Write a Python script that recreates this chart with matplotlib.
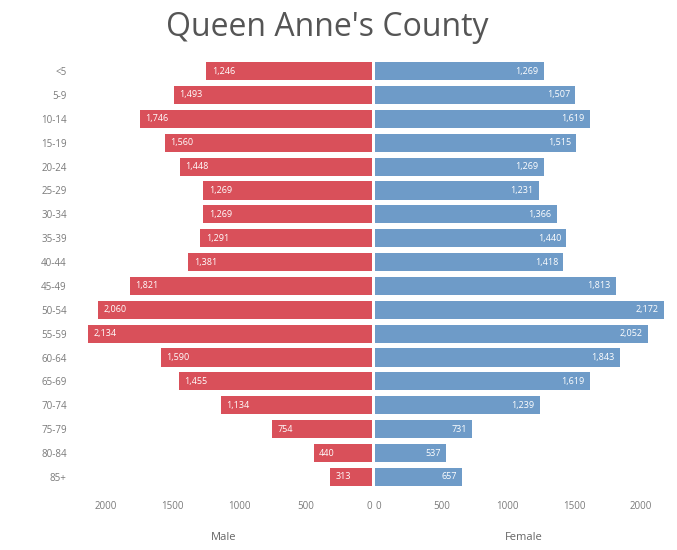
import matplotlib
matplotlib.use("Agg")
import matplotlib.pyplot as plt
from matplotlib.ticker import FixedLocator, FuncFormatter

plt.rcParams['font.family'] = ['Open Sans', 'DejaVu Sans']

# Population by age group and sex
age_groups = ["<5", "5-9", "10-14", "15-19", "20-24", "25-29", "30-34", "35-39",
              "40-44", "45-49", "50-54", "55-59", "60-64", "65-69", "70-74",
              "75-79", "80-84", "85+"]
male = [1246, 1493, 1746, 1560, 1448, 1269, 1269, 1291, 1381, 1821, 2060, 2134,
        1590, 1455, 1134, 754, 440, 313]
female = [1269, 1507, 1619, 1515, 1269, 1231, 1366, 1440, 1418, 1813, 2172, 2052,
          1843, 1619, 1239, 731, 537, 657]
x_ticks = [0, 500, 1000, 1500, 2000]
title = "Queen Anne's County"

male_color = "#d9505a"
female_color = "#6e9bc8"
text_gray = "#7a7a7a"
xmax = 2235

W, H = 677, 550
fig = plt.figure(figsize=(W / 100, H / 100), dpi=100)
bottom = 1 - 490 / H
height = (490 - 58) / H
ax_m = fig.add_axes([75 / W, bottom, (372 - 75) / W, height])
ax_f = fig.add_axes([375 / W, bottom, (672 - 375) / W, height])

y = list(range(len(age_groups)))
ax_m.barh(y, male, height=0.76, color=male_color)
ax_f.barh(y, female, height=0.76, color=female_color)

for i, v in enumerate(male):
    ax_m.text(v - 40, i, f"{v:,}", ha="left", va="center", color="white", fontsize=6.5)
for i, v in enumerate(female):
    ax_f.text(v - 40, i, f"{v:,}", ha="right", va="center", color="white", fontsize=6.5)

for ax in (ax_m, ax_f):
    ax.set_ylim(len(age_groups) - 0.45, -0.55)
    ax.xaxis.set_major_locator(FixedLocator(x_ticks))
    ax.xaxis.set_major_formatter(FuncFormatter(lambda v, p: f"{int(v)}"))
    ax.tick_params(axis="x", length=0, labelsize=7, labelcolor=text_gray, pad=8)
    for s in ax.spines.values():
        s.set_visible(False)

ax_m.set_xlim(xmax, 0)
ax_f.set_xlim(0, xmax)

# keep the two zero labels apart at the centre line
fig.canvas.draw()
ax_m.get_xticklabels()[0].set_horizontalalignment("right")
ax_f.get_xticklabels()[0].set_horizontalalignment("left")

ax_m.set_yticks(y)
ax_m.set_yticklabels(age_groups)
ax_m.tick_params(axis="y", length=0, labelsize=7, labelcolor=text_gray, pad=6)
ax_f.set_yticks([])

ax_m.set_xlabel("Male", fontsize=8, color="#666666", labelpad=14)
ax_f.set_xlabel("Female", fontsize=8, color="#666666", labelpad=14)

fig.text(327 / W, 1 - 28 / H, title, ha="center", va="center",
         fontsize=23, color="#555555")

fig.savefig("out.png", dpi=100, facecolor="white")
